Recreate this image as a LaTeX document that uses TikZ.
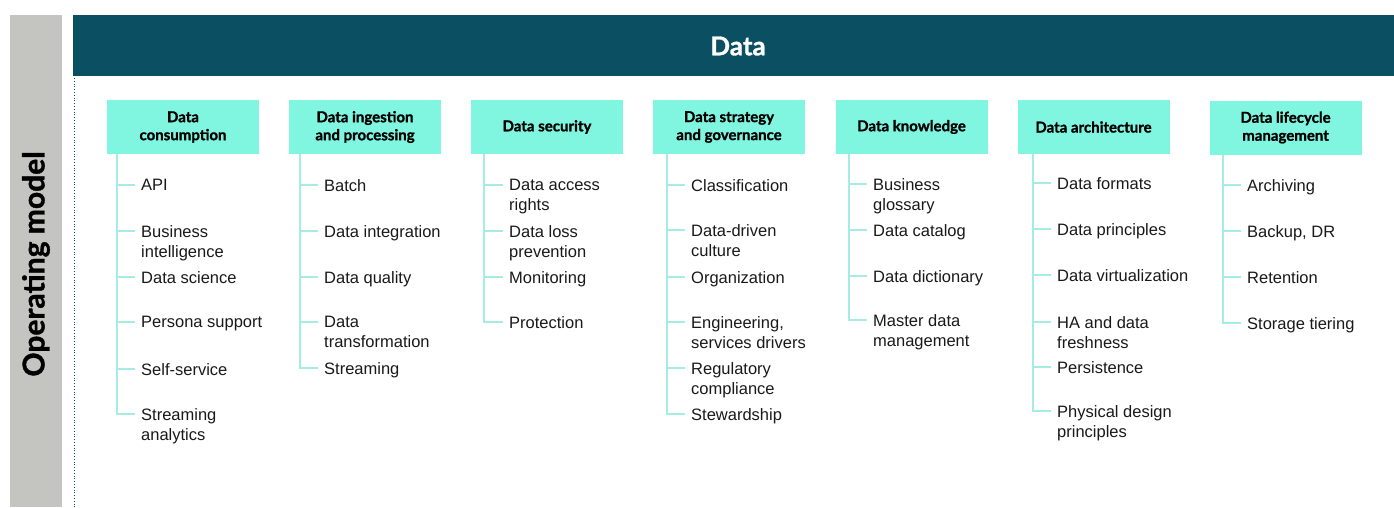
\documentclass[tikz,border=0pt]{standalone}
\usepackage{fontspec}
\setmainfont{Liberation Sans}
\newfontfamily\headfont{Lato}[BoldFeatures={FakeBold=1.2}]
\usetikzlibrary{positioning}

\definecolor{bandgrey}{HTML}{C4C4C0}
\definecolor{datateal}{HTML}{0B4F63}
\definecolor{aqua}{HTML}{80F6E1}
\definecolor{twiggreen}{HTML}{A4ECE4}

\tikzset{
  area/.style={fill=aqua, minimum width=152pt, minimum height=54pt, inner sep=0pt,
    align=center, font=\headfont\bfseries\fontsize{15}{18}\selectfont},
  item/.style={anchor=north west, inner xsep=6pt, inner ysep=0pt, align=left,
    text=black!90, font=\fontsize{16.5}{20}\selectfont},
  twig/.style={draw=twiggreen, line width=1.3pt},
}

\begin{document}
\begin{tikzpicture}[x=1pt,y=-1pt]
\useasboundingbox (0,0) rectangle (1394,507);

% side band and banner
\fill[bandgrey] (10,15) rectangle (62,507);
\node[rotate=90, font=\headfont\bfseries\fontsize{30}{34}\selectfont, name=side] at (36,264) {Operating model};
\fill[datateal] (73,15) rectangle (1394,76);
\node[text=white, font=\headfont\bfseries\fontsize{26}{30}\selectfont, name=title] at (738,46) {Data};
\coordinate (dtop) at (74,78);
\coordinate (dbot) at (74,507);
\draw[datateal, line width=0.8pt, dotted] (dtop) -- (dbot);

% areas
\node[area, name=h1] at (183,127) {Data\\consumption};
\node[area, name=h2] at (365,127) {Data ingestion\\and processing};
\node[area, name=h3] at (547,127) {Data security};
\node[area, name=h4] at (729,127) {Data strategy\\and governance};
\node[area, name=h5] at (911.5,127) {Data knowledge};
\node[area, name=h6] at (1093.5,127) {Data architecture};
\node[area, name=h7] at (1285.5,127.5) {Data lifecycle\\management};

% Data consumption
\coordinate (ta1) at (117,185);
\coordinate (ta2) at (117,231);
\coordinate (ta3) at (117,277);
\coordinate (ta4) at (117,322);
\coordinate (ta5) at (117,369);
\coordinate (ta6) at (117,414);
\node[item, name=a1] at (135,179) {API};
\node[item, name=a2] at (135,225) {Business\\intelligence};
\node[item, name=a3] at (135,271) {Data science};
\node[item, name=a4] at (135,316) {Persona support};
\node[item, name=a5] at (135,363) {Self-service};
\node[item, name=a6] at (135,408) {Streaming\\analytics};
\draw[twig] (ta1 |- h1.south) -- (ta6) -- (ta6 -| a6.west)
  (ta1) -- (ta1 -| a1.west) (ta2) -- (ta2 -| a2.west) (ta3) -- (ta3 -| a3.west)
  (ta4) -- (ta4 -| a4.west) (ta5) -- (ta5 -| a5.west);

% Data ingestion and processing
\coordinate (tb1) at (300,185);
\coordinate (tb2) at (300,231);
\coordinate (tb3) at (300,277);
\coordinate (tb4) at (300,322);
\coordinate (tb5) at (300,368);
\node[item, name=b1] at (318,179) {Batch};
\node[item, name=b2] at (318,225) {Data integration};
\node[item, name=b3] at (318,271) {Data quality};
\node[item, name=b4] at (318,316) {Data\\transformation};
\node[item, name=b5] at (318,362) {Streaming};
\draw[twig] (tb1 |- h2.south) -- (tb5) -- (tb5 -| b5.west)
  (tb1) -- (tb1 -| b1.west) (tb2) -- (tb2 -| b2.west) (tb3) -- (tb3 -| b3.west)
  (tb4) -- (tb4 -| b4.west);

% Data security
\coordinate (tc1) at (484,185);
\coordinate (tc2) at (484,231);
\coordinate (tc3) at (484,277);
\coordinate (tc4) at (484,322);
\node[item, name=c1] at (503,179) {Data access\\rights};
\node[item, name=c2] at (503,225) {Data loss\\prevention};
\node[item, name=c3] at (503,271) {Monitoring};
\node[item, name=c4] at (503,316) {Protection};
\draw[twig] (tc1 |- h3.south) -- (tc4) -- (tc4 -| c4.west)
  (tc1) -- (tc1 -| c1.west) (tc2) -- (tc2 -| c2.west) (tc3) -- (tc3 -| c3.west);

% Data strategy and governance
\coordinate (td1) at (667,185);
\coordinate (td2) at (667,230);
\coordinate (td3) at (667,277);
\coordinate (td4) at (667,322);
\coordinate (td5) at (667,368);
\coordinate (td6) at (667,414);
\node[item, name=d1] at (685,179) {Classification};
\node[item, name=d2] at (685,224) {Data-driven\\culture};
\node[item, name=d3] at (685,271) {Organization};
\node[item, name=d4] at (685,316) {Engineering,\\services drivers};
\node[item, name=d5] at (685,362) {Regulatory\\compliance};
\node[item, name=d6] at (685,408) {Stewardship};
\draw[twig] (td1 |- h4.south) -- (td6) -- (td6 -| d6.west)
  (td1) -- (td1 -| d1.west) (td2) -- (td2 -| d2.west) (td3) -- (td3 -| d3.west)
  (td4) -- (td4 -| d4.west) (td5) -- (td5 -| d5.west);

% Data knowledge
\coordinate (te1) at (849,184);
\coordinate (te2) at (849,230);
\coordinate (te3) at (849,276);
\coordinate (te4) at (849,320);
\node[item, name=e1] at (867,178) {Business\\glossary};
\node[item, name=e2] at (867,224) {Data catalog};
\node[item, name=e3] at (867,270) {Data dictionary};
\node[item, name=e4] at (867,314) {Master data\\management};
\draw[twig] (te1 |- h5.south) -- (te4) -- (te4 -| e4.west)
  (te1) -- (te1 -| e1.west) (te2) -- (te2 -| e2.west) (te3) -- (te3 -| e3.west);

% Data architecture
\coordinate (tf1) at (1033,183);
\coordinate (tf2) at (1033,229);
\coordinate (tf3) at (1033,275);
\coordinate (tf4) at (1033,322);
\coordinate (tf5) at (1033,367);
\coordinate (tf6) at (1033,411);
\node[item, name=f1] at (1051,177) {Data formats};
\node[item, name=f2] at (1051,223) {Data principles};
\node[item, name=f3] at (1051,269) {Data virtualization};
\node[item, name=f4] at (1051,316) {HA and data\\freshness};
\node[item, name=f5] at (1051,361) {Persistence};
\node[item, name=f6] at (1051,405) {Physical design\\principles};
\draw[twig] (tf1 |- h6.south) -- (tf6) -- (tf6 -| f6.west)
  (tf1) -- (tf1 -| f1.west) (tf2) -- (tf2 -| f2.west) (tf3) -- (tf3 -| f3.west)
  (tf4) -- (tf4 -| f4.west) (tf5) -- (tf5 -| f5.west);

% Data lifecycle management
\coordinate (tg1) at (1223,185);
\coordinate (tg2) at (1223,231);
\coordinate (tg3) at (1223,277);
\coordinate (tg4) at (1223,323);
\node[item, name=g1] at (1241,179) {Archiving};
\node[item, name=g2] at (1241,225) {Backup, DR};
\node[item, name=g3] at (1241,271) {Retention};
\node[item, name=g4] at (1241,317) {Storage tiering};
\draw[twig] (tg1 |- h7.south) -- (tg4) -- (tg4 -| g4.west)
  (tg1) -- (tg1 -| g1.west) (tg2) -- (tg2 -| g2.west) (tg3) -- (tg3 -| g3.west);
\end{tikzpicture}
\end{document}
